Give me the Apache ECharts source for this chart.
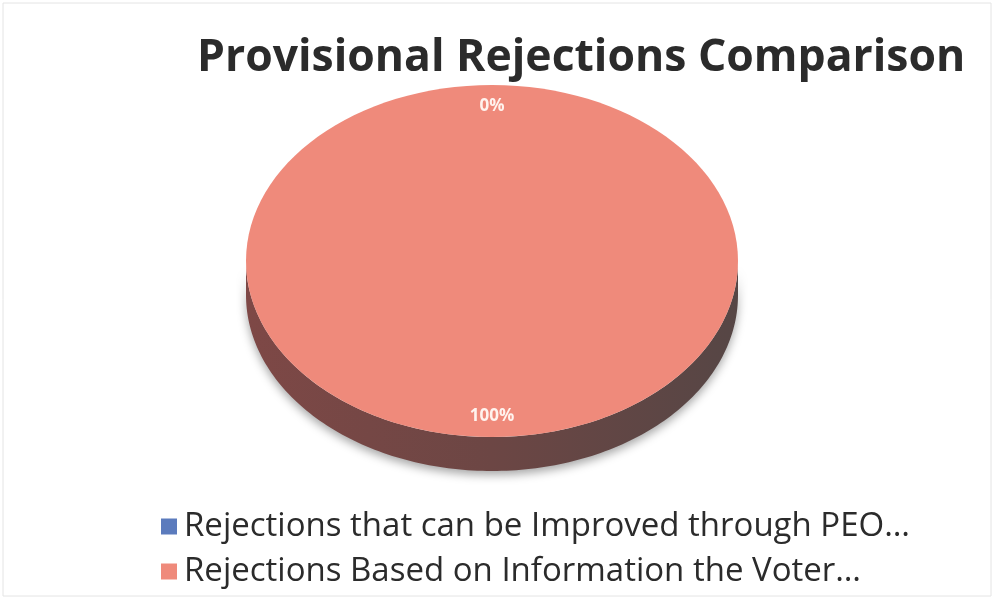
<!DOCTYPE html>
<html>
<head>
<meta charset="utf-8">
<script src="https://cdn.jsdelivr.net/npm/echarts@6/dist/echarts.min.js"></script>
<style>
  html, body { margin: 0; padding: 0; background: #fff; }
  #main { width: 995px; height: 600px; }
</style>
</head>
<body>
<div id="main"></div>
<script>
const categories = [
  "Rejections that can be Improved through PEO\u2026",
  "Rejections Based on Information the Voter\u2026"
];
const values = [0, 100];
const colors = ["#5b7bbd", "#ef8a7b"];

const chart = echarts.init(document.getElementById("main"));

// ellipse geometry for the tilted pie
const cx = 492, cy = 261, rx = 246, ry = 176, depth = 34;
const total = values.reduce((a, b) => a + b, 0);

function arc(a0, a1, dy) {
  const pts = [];
  const n = Math.max(2, Math.ceil(Math.abs(a1 - a0) / 0.02));
  for (let k = 0; k <= n; k++) {
    const t = a0 + (a1 - a0) * k / n;
    pts.push([cx + rx * Math.cos(t), cy + dy + ry * Math.sin(t)]);
  }
  return pts;
}

function renderSlice(idx) {
  return function (params, api) {
    const v = api.value(0);
    const before = values.slice(0, idx).reduce((a, b) => a + b, 0);
    const a0 = -Math.PI / 2 + 2 * Math.PI * before / total;
    const a1 = a0 + 2 * Math.PI * v / total;
    const children = [];
    if (v > 0) {
      // side wall, only the front half is visible
      for (let k = -1; k <= 1; k++) {
        const lo = Math.max(a0, 2 * Math.PI * k);
        const hi = Math.min(a1, 2 * Math.PI * k + Math.PI);
        if (hi > lo) {
          const pts = arc(lo, hi, 0).concat(arc(hi, lo, depth));
          children.push({
            type: "polygon",
            shape: { points: pts },
            style: {
              fill: new echarts.graphic.LinearGradient(0, 0, 1, 0, [
                { offset: 0, color: "#7e4846" },
                { offset: 0.5, color: "#6c4644" },
                { offset: 1, color: "#564645" }
              ]),
              shadowBlur: 10,
              shadowOffsetY: 4,
              shadowColor: "rgba(0,0,0,0.35)"
            }
          });
        }
      }
      let top;
      if (v >= total) {
        top = { type: "ellipse", shape: { cx: cx, cy: cy, rx: rx, ry: ry } };
      } else {
        top = { type: "polygon", shape: { points: [[cx, cy]].concat(arc(a0, a1, 0)) } };
      }
      top.style = { fill: colors[idx] };
      children.push(top);
    }
    const mid = (a0 + a1) / 2;
    children.push({
      type: "text",
      style: {
        x: cx + 0.88 * rx * Math.cos(mid),
        y: cy + 0.88 * ry * Math.sin(mid),
        text: Math.round(v / total * 100) + "%",
        fill: "#fff3ee",
        font: "bold 17px 'Open Sans', sans-serif",
        align: "center",
        verticalAlign: "middle"
      },
      z2: 10
    });
    return { type: "group", children: children };
  };
}

const option = {
  animation: false,
  color: colors,
  graphic: [{
    type: "rect",
    shape: { x: 3, y: 3, width: 988, height: 593 },
    style: { fill: "none", stroke: "#e4e4e4", lineWidth: 1 },
    silent: true
  }],
  title: {
    text: "Provisional Rejections Comparison",
    left: 192,
    top: 31,
    textStyle: {
      fontFamily: "Open Sans",
      fontWeight: "bold",
      fontSize: 44.5,
      color: "#2b2b2b"
    }
  },
  legend: {
    orient: "vertical",
    left: 156,
    top: 505,
    itemWidth: 16,
    itemHeight: 16,
    itemGap: 12,
    icon: "rect",
    data: categories,
    textStyle: {
      fontFamily: "Open Sans",
      fontSize: 33,
      color: "#2b2b2b",
      padding: [0, 0, 0, 2]
    }
  },
  series: categories.map((name, i) => ({
    name: name,
    type: "custom",
    coordinateSystem: "none",
    itemStyle: { color: colors[i] },
    renderItem: renderSlice(i),
    data: [[values[i]]]
  }))
};

chart.setOption(option);
</script>
</body>
</html>
